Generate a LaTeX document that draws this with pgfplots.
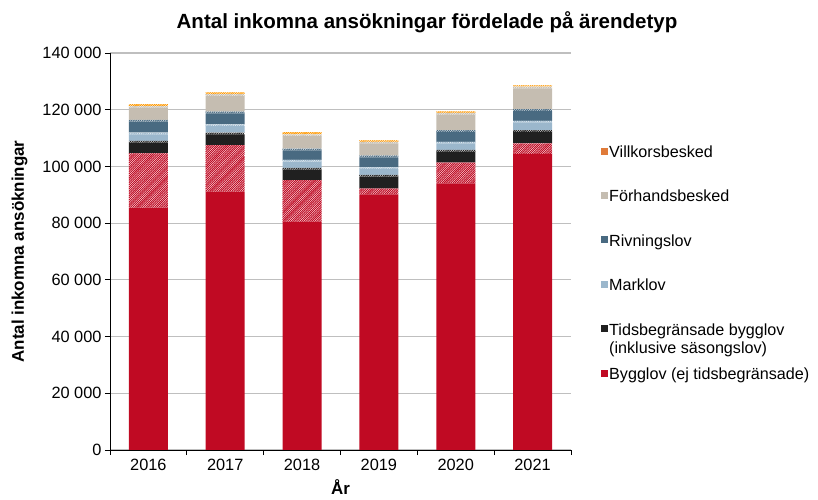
\documentclass[border=0pt]{standalone}
\usepackage{fontspec}
\setmainfont{Liberation Sans}
\usepackage{pgfplots}
\pgfplotsset{compat=1.18}
\usepackage{pgfplotstable}
\usetikzlibrary{patterns}

\definecolor{bred}{HTML}{C00A23}
\definecolor{bblack}{HTML}{202020}
\definecolor{lblue}{HTML}{9BB7CC}
\definecolor{dblue}{HTML}{496A81}
\definecolor{beige}{HTML}{C5BDB1}
\definecolor{borange}{HTML}{E07B39}

% fine diagonal hatch (tiles of thick lines)
\pgfdeclarepatternformonly{densehatch}{\pgfqpoint{-1pt}{-1pt}}{\pgfqpoint{3pt}{3pt}}{\pgfqpoint{2.2pt}{2.2pt}}{%
  \pgfsetlinewidth{0.9pt}%
  \pgfpathmoveto{\pgfqpoint{-0.2pt}{-0.2pt}}\pgfpathlineto{\pgfqpoint{2.4pt}{2.4pt}}\pgfusepath{stroke}}

\pgfplotsset{
  sqlegend/.style={legend image code/.code={\fill[##1, draw=none] (0bp,-2.5bp) rectangle (7bp,4.5bp);}},
  hatched/.style={fill=white, draw=none, postaction={pattern=densehatch, pattern color=#1}},
}

% värden per år (0 = 2016 ... 5 = 2021)
\pgfplotstableread{
x S H Bs Bh Ms Mh Rs Rh Fs Fh O
0 85500 19100 3800 600 2300 600 3900 600 4300 600 700
1 91100 16400 3800 600 2300 600 3900 600 5600 600 600
2 80500 14700 3700 600 2200 600 3400 600 4400 600 800
3 90100 2100 4200 600 2100 600 3500 600 4300 600 500
4 94000 7300 3900 600 2300 600 3500 600 5500 600 500
5 104400 3700 4100 600 2700 600 3500 600 7300 600 500
}\data

\begin{document}
\begin{tikzpicture}
\path[use as bounding box] (-110bp,-50bp) rectangle (708bp,450bp);
\begin{axis}[
  at={(0,0)}, anchor=south west,
  scale only axis, width=461bp, height=397bp,
  ybar stacked, bar width=39bp,
  xmin=-0.5, xmax=5.5, ymin=0, ymax=140000,
  axis lines*=left, axis line style={black, line width=0.8bp},
  xtick={0,...,5}, xticklabels={2016,2017,2018,2019,2020,2021},
  major x tick style={draw=none},
  minor xtick={-0.5,0.5,...,5.5},
  minor x tick style={black, line width=0.8bp},
  ytick={0,20000,...,140000},
  y tick style={black, line width=0.8bp},
  tick align=outside, major tick length=5bp, minor tick length=5bp,
  scaled y ticks=false,
  yticklabel style={/pgf/number format/.cd, fixed, 1000 sep={\ }, assume math mode=true},
  ymajorgrids, grid style={black!25, line width=1.2bp},
  tick label style={font=\fontsize{16.4}{19}\selectfont},
  xticklabel style={yshift=-1bp},
  xlabel={\bfseries År}, ylabel={\bfseries Antal inkomna ansökningar},
  label style={font=\fontsize{17}{20}\selectfont},
  xlabel style={yshift=-2bp},
  ylabel style={yshift=8bp},
  legend style={at={(axis description cs:1.064,0.77)}, anchor=north west,
    draw=none, fill=none, row sep=28bp, inner sep=0pt,
    font=\fontsize{16.2}{18}\selectfont,
    nodes={inner sep=1.5bp}},
  legend cell align=left,
]
\addlegendimage{sqlegend, fill=borange}
\addlegendentry{Villkorsbesked}
\addlegendimage{sqlegend, fill=beige}
\addlegendentry{Förhandsbesked}
\addlegendimage{sqlegend, fill=dblue}
\addlegendentry{Rivningslov}
\addlegendimage{sqlegend, fill=lblue}
\addlegendentry{Marklov}
\addlegendimage{sqlegend, fill=bblack}
\addlegendentry{\begin{tabular}[t]{@{}l@{}}Tidsbegränsade bygglov\\(inklusive säsongslov)\end{tabular}}
\addlegendimage{sqlegend, fill=bred}
\addlegendentry{Bygglov (ej tidsbegränsade)}

\addplot[fill=bred, draw=none] table[x=x, y=S] {\data};
\addplot[hatched=bred] table[x=x, y=H] {\data};
\addplot[fill=bblack, draw=none] table[x=x, y=Bs] {\data};
\addplot[hatched=bblack] table[x=x, y=Bh] {\data};
\addplot[fill=lblue, draw=none] table[x=x, y=Ms] {\data};
\addplot[hatched=lblue] table[x=x, y=Mh] {\data};
\addplot[fill=dblue, draw=none] table[x=x, y=Rs] {\data};
\addplot[hatched=dblue] table[x=x, y=Rh] {\data};
\addplot[fill=beige, draw=none] table[x=x, y=Fs] {\data};
\addplot[hatched=beige] table[x=x, y=Fh] {\data};
\addplot[hatched=orange!80!yellow] table[x=x, y=O] {\data};
\end{axis}
\node[font=\bfseries\fontsize{20.6}{24}\selectfont] at (317bp,428bp) {Antal inkomna ansökningar fördelade på ärendetyp};
\end{tikzpicture}
\end{document}
